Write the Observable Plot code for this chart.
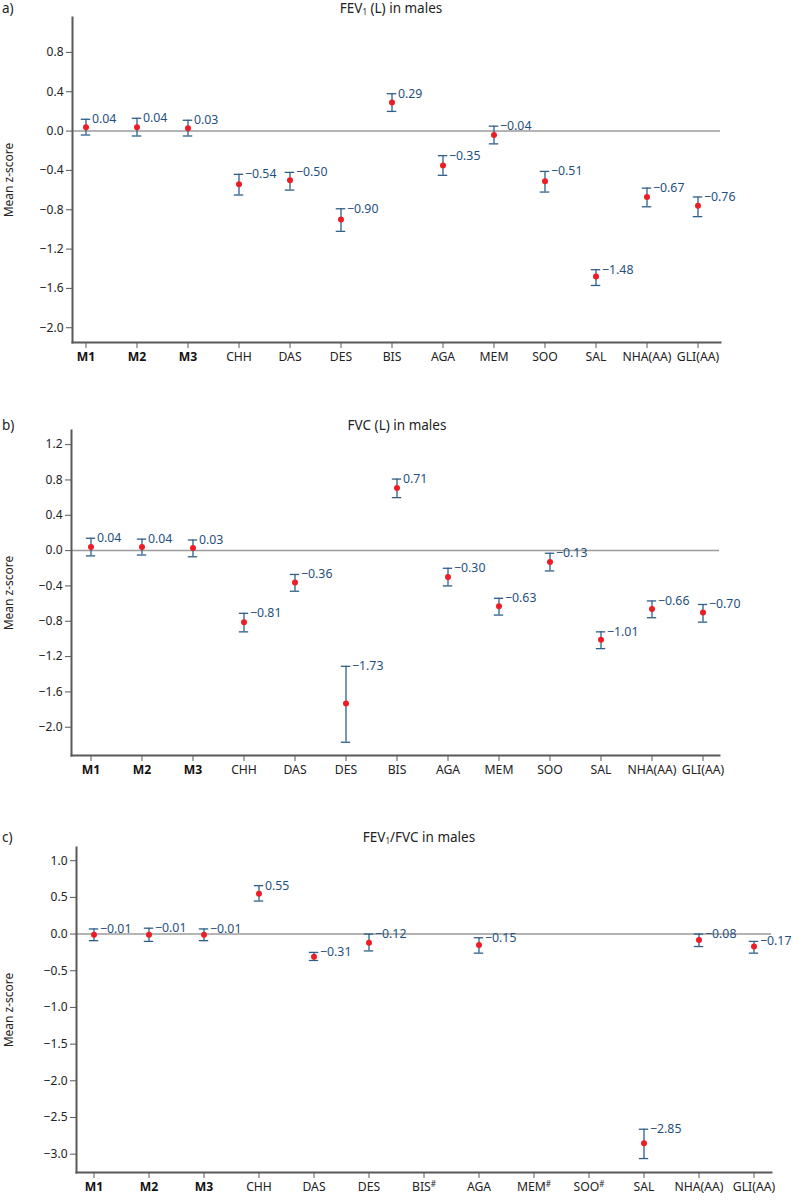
<!DOCTYPE html>
<html>
<head>
<meta charset="utf-8">
<script src="https://cdn.jsdelivr.net/npm/d3@7"></script>
<script src="https://cdn.jsdelivr.net/npm/@observablehq/plot@0.6"></script>
<style>
  html, body { margin: 0; padding: 0; background: #fff; }
  #root { position: relative; width: 799px; height: 1201px; font-family: "Noto Sans", sans-serif; color: #222; }
  .plabel { position: absolute; left: 2px; font-size: 13.5px; line-height: 16px; }
  .ptitle { position: absolute; font-size: 13.5px; line-height: 16px; transform: translateX(-50%); white-space: nowrap; }
  .ptitle sub { font-size: 8px; vertical-align: -2px; line-height: 0; }
  .panel { position: absolute; left: 0; }
</style>
</head>
<body>
<div id="root"></div>
<script>
// ---------- data ----------
const categories = ["M1","M2","M3","CHH","DAS","DES","BIS","AGA","MEM","SOO","SAL","NHA(AA)","GLI(AA)"];
const boldCategories = ["M1","M2","M3"];

// a) FEV1 (L) in males
const fev1Mean  = [0.04, 0.04, 0.03, -0.54, -0.50, -0.90, 0.29, -0.35, -0.04, -0.51, -1.48, -0.67, -0.76];
const fev1Lower = [-0.04, -0.05, -0.05, -0.65, -0.60, -1.02, 0.20, -0.45, -0.13, -0.62, -1.57, -0.77, -0.87];
const fev1Upper = [0.12, 0.13, 0.11, -0.44, -0.42, -0.79, 0.38, -0.25, 0.05, -0.41, -1.41, -0.58, -0.67];

// b) FVC (L) in males
const fvcMean  = [0.04, 0.04, 0.03, -0.81, -0.36, -1.73, 0.71, -0.30, -0.63, -0.13, -1.01, -0.66, -0.70];
const fvcLower = [-0.06, -0.05, -0.07, -0.92, -0.46, -2.17, 0.60, -0.40, -0.73, -0.23, -1.11, -0.76, -0.81];
const fvcUpper = [0.14, 0.13, 0.12, -0.71, -0.27, -1.31, 0.81, -0.20, -0.54, -0.03, -0.92, -0.57, -0.61];

// c) FEV1/FVC in males (BIS, MEM, SOO not available)
const ratioMean  = [-0.01, -0.01, -0.01, 0.55, -0.31, -0.12, null, -0.15, null, null, -2.85, -0.08, -0.17];
const ratioLower = [-0.09, -0.10, -0.09, 0.45, -0.36, -0.23, null, -0.26, null, null, -3.06, -0.17, -0.26];
const ratioUpper = [0.07, 0.08, 0.07, 0.66, -0.25, 0.00, null, -0.05, null, null, -2.66, 0.00, -0.10];
const ratioTickLabels = ["M1","M2","M3","CHH","DAS","DES","BIS#","AGA","MEM#","SOO#","SAL","NHA(AA)","GLI(AA)"];

const ticksA = [0.8, 0.4, 0.0, -0.4, -0.8, -1.2, -1.6, -2.0];
const ticksB = [1.2, 0.8, 0.4, 0.0, -0.4, -0.8, -1.2, -1.6, -2.0];
const ticksC = [1.0, 0.5, 0.0, -0.5, -1.0, -1.5, -2.0, -2.5, -3.0];

// ---------- style ----------
const FONT = '"Noto Sans", sans-serif';
const ERR = "#2f5f8a";
const LABEL = "#1f4f7e";
const DOT = "#ee1d25";
const AXIS = "#595959";
const CAP = 10;

function rows(mean, lower, upper) {
  return categories.map((c, i) => ({cat: c, mean: mean[i], lo: lower[i], hi: upper[i]}))
    .filter(d => d.mean != null);
}

const root = document.getElementById("root");

function panel(opt) {
  const data = rows(opt.mean, opt.lower, opt.upper);
  const fmt = d3.format(".2f");
  const tickLab = opt.tickLabels ? (c => opt.tickLabels[categories.indexOf(c)]) : (c => c);
  const rest = categories.filter(c => !boldCategories.includes(c));
  // band scale whose band centres fall on the first/last category positions
  const [c0, c1] = opt.xCenters;
  const step = (c1 - c0) / (categories.length - 1);
  const inset = -(CAP - step) / 2;
  const svg = Plot.plot({
    width: 799,
    height: opt.height,
    marginTop: 10,
    marginBottom: opt.height - 10 - 325,
    marginLeft: opt.marginLeft,
    marginRight: opt.marginRight,
    style: {fontFamily: FONT, fontSize: "12px", color: "#222", background: "transparent", overflow: "visible"},
    x: {type: "band", domain: categories, range: [c0 - step / 2, c1 + step / 2], padding: 0},
    y: {domain: opt.yDomain},
    marks: [
      Plot.ruleY([0], {stroke: "#9b9b9b", strokeWidth: 1.5}),
      Plot.frame({anchor: "left", stroke: AXIS, strokeWidth: 2}),
      Plot.frame({anchor: "bottom", stroke: AXIS, strokeWidth: 2}),
      Plot.axisY({ticks: opt.yTicks, tickFormat: d3.format(".1f"), tickSize: 6, tickPadding: 3,
        stroke: AXIS, fill: "#222", fontSize: 12,
        label: "Mean z-score", labelAnchor: "center", labelArrow: "none", labelOffset: opt.marginLeft - 4}),
      Plot.axisX({ticks: boldCategories, tickFormat: tickLab, tickSize: 6, tickPadding: 4,
        stroke: AXIS, fill: "#111", fontWeight: "bold", fontSize: 12.2, label: null}),
      Plot.axisX({ticks: rest, tickFormat: tickLab, tickSize: 6, tickPadding: 4,
        stroke: AXIS, fill: "#222", fontSize: 12.2, label: null}),
      Plot.ruleX(data, {x: "cat", y1: "lo", y2: "hi", stroke: ERR, strokeWidth: 1.3}),
      Plot.tickY(data, {x: "cat", y: "hi", stroke: ERR, strokeWidth: 1.3, insetLeft: inset, insetRight: inset}),
      Plot.tickY(data, {x: "cat", y: "lo", stroke: ERR, strokeWidth: 1.3, insetLeft: inset, insetRight: inset}),
      Plot.dot(data, {x: "cat", y: "mean", r: 3, fill: DOT, stroke: null}),
      Plot.text(data, {x: "cat", y: "hi", text: d => fmt(d.mean), dx: 6, textAnchor: "start",
        fill: LABEL, fontSize: 12.3})
    ]
  });
  // superscript '#' on tick labels
  d3.select(svg).selectAll("text").each(function() {
    const t = d3.select(this);
    if (this.childElementCount === 0) {
      const s = this.textContent;
      if (s.endsWith("#")) {
        t.text(s.slice(0, -1));
        t.append("tspan").attr("font-size", 8).attr("dy", "-0.5em").text("#");
      }
    }
  });
  const wrap = document.createElement("div");
  wrap.className = "panel";
  wrap.style.top = opt.top + "px";
  wrap.appendChild(svg);
  root.appendChild(wrap);

  const lab = document.createElement("div");
  lab.className = "plabel";
  lab.style.top = (opt.titleY - 8) + "px";
  lab.textContent = opt.letter;
  root.appendChild(lab);

  const title = document.createElement("div");
  title.className = "ptitle";
  title.style.top = (opt.titleY - 8) + "px";
  title.style.left = opt.titleX + "px";
  title.innerHTML = opt.title;
  root.appendChild(title);
}

panel({letter: "a)", title: "FEV<sub>1</sub> (L) in males", titleY: 8, titleX: 391, top: 7, height: 365,
  marginLeft: 72, marginRight: 79, xCenters: [82, 700], yDomain: [-2.15, 1.155], yTicks: ticksA,
  mean: fev1Mean, lower: fev1Lower, upper: fev1Upper});

panel({letter: "b)", title: "FVC (L) in males", titleY: 425, titleX: 397, top: 420, height: 365,
  marginLeft: 71, marginRight: 80, xCenters: [86.5, 706], yDomain: [-2.32, 1.36], yTicks: ticksB,
  mean: fvcMean, lower: fvcLower, upper: fvcUpper});

panel({letter: "c)", title: "FEV<sub>1</sub>/FVC in males", titleY: 837, titleX: 419, top: 837, height: 364,
  marginLeft: 76, marginRight: 28, xCenters: [90, 757], yDomain: [-3.25, 1.18], yTicks: ticksC,
  mean: ratioMean, lower: ratioLower, upper: ratioUpper, tickLabels: ratioTickLabels});
</script>
</body>
</html>
